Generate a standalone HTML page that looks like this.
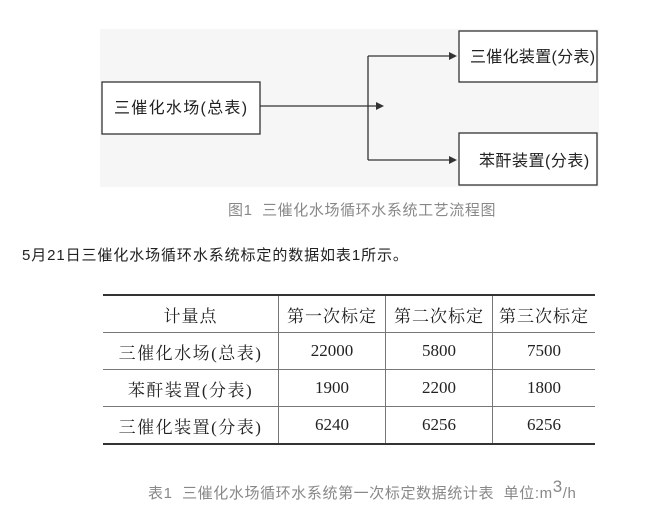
<!DOCTYPE html>
<html><head><meta charset="utf-8"><style>
body{margin:0;width:659px;height:518px;background:#fff;font-family:"Liberation Sans","Noto Sans CJK SC",sans-serif;position:relative;overflow:hidden}
.a{position:absolute;white-space:nowrap}
table{position:absolute;left:103px;top:294px;width:492px;border-collapse:collapse;font-family:"Liberation Serif","Noto Serif CJK SC",serif;font-size:17px;color:#222}
td{border-left:1px solid #777;text-align:center;height:36px;padding:0;border-bottom:1px solid #777}
td:first-child{border-left:none;letter-spacing:1.5px}
tr:first-child td{border-top:2px solid #333;letter-spacing:1px}
tr:last-child td{border-bottom:2px solid #333}
</style></head><body>
<svg class="a" style="left:0;top:0" width="659" height="200">
<rect x="100" y="29" width="499" height="158" fill="#f6f6f6"/>
<g fill="#fff" stroke="#333" stroke-width="1.3">
<rect x="102" y="82" width="158" height="52"/>
<rect x="459" y="31" width="138" height="51"/>
<rect x="459" y="133" width="138" height="52"/>
</g>
<g stroke="#333" stroke-width="1.3" fill="none">
<path d="M260 106H378M368 56V160M368 56H450M368 160H450"/>
</g>
<g fill="#333"><path d="M384 106l-8-4v8z"/><path d="M457 56l-8-4v8z"/><path d="M457 160l-8-4v8z"/></g>
<g font-size="16" fill="#222" font-family="Liberation Sans,Noto Sans CJK SC,sans-serif">
<text x="114" y="113" letter-spacing="1.3">三催化水场(总表)</text>
<text x="470" y="62" letter-spacing="0.3">三催化装置(分表)</text>
<text x="479" y="166" letter-spacing="0.5">苯酐装置(分表)</text>
</g>
</svg>
<div class="a" style="left:228px;top:199px;font-size:15px;color:#888;letter-spacing:0.6px">图1&nbsp; 三催化水场循环水系统工艺流程图</div>
<div class="a" style="left:22px;top:244px;font-size:15px;color:#222;letter-spacing:0.9px">5月21日三催化水场循环水系统标定的数据如表1所示。</div>
<table>
<tr><td style="width:175px">计量点</td><td style="width:106px">第一次标定</td><td style="width:106px">第二次标定</td><td>第三次标定</td></tr>
<tr><td>三催化水场(总表)</td><td>22000</td><td>5800</td><td>7500</td></tr>
<tr><td>苯酐装置(分表)</td><td>1900</td><td>2200</td><td>1800</td></tr>
<tr><td>三催化装置(分表)</td><td>6240</td><td>6256</td><td>6256</td></tr>
</table>
<div class="a" style="left:148px;top:477px;font-size:15px;color:#888;letter-spacing:0.6px">表1&nbsp; 三催化水场循环水系统第一次标定数据统计表&nbsp; 单位:m<sup style="font-size:17px;vertical-align:6px">3</sup>/h</div>
</body></html>
